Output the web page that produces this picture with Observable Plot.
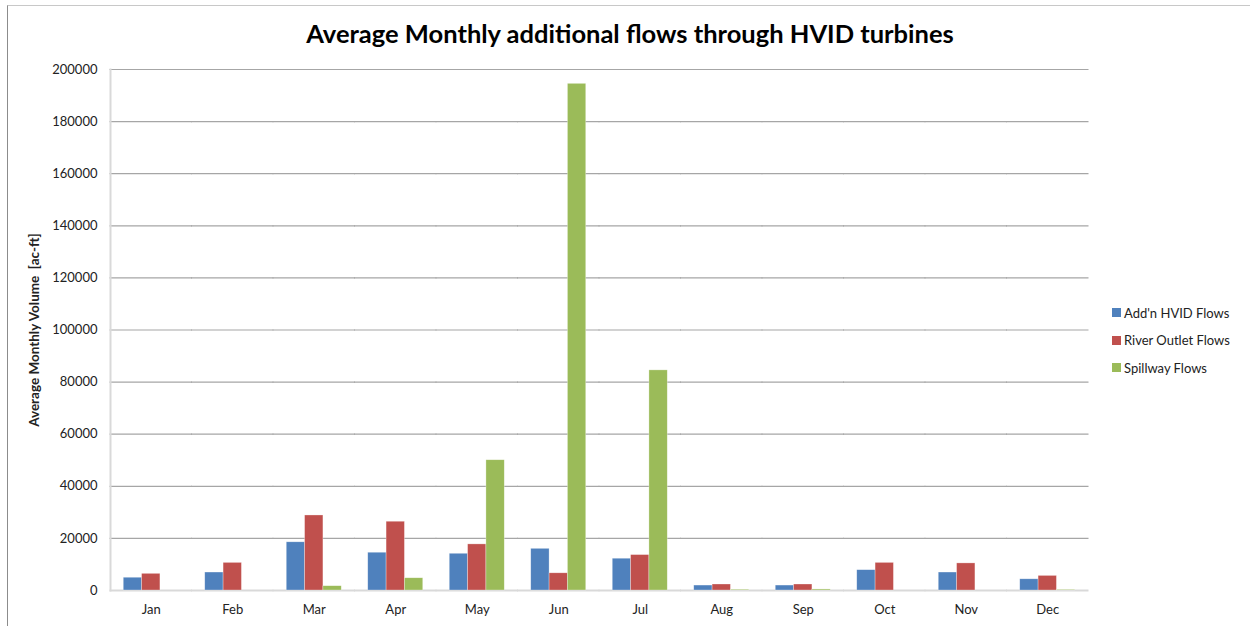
<!DOCTYPE html>
<html>
<head>
<meta charset="utf-8">
<script src="https://cdn.jsdelivr.net/npm/d3@7"></script>
<script src="https://cdn.jsdelivr.net/npm/@observablehq/plot@0.6"></script>
<style>
  body { margin: 0; background: #fff; }
  #wrap { position: relative; width: 1250px; height: 626px; overflow: hidden; font-family: Lato, "Open Sans", sans-serif; }
  #border { position: absolute; left: 7px; top: 5px; width: 1300px; height: 700px; border-left: 1.5px solid #8c8c8c; border-top: 1.5px solid #c8c8c8; }
  #title { position: absolute; left: 0; top: 18px; width: 1260px; text-align: center; font-size: 25.5px; font-weight: bold; color: #000; }
  #legend { position: absolute; left: 1112px; top: 299px; font-size: 13px; color: #222; }
  #legend div { height: 27.5px; display: flex; align-items: center; }
  #legend span.sw { display: inline-block; width: 9px; height: 9px; margin-right: 3px; }
  svg { position: absolute; left: 0; top: 0; }
  g[aria-label="y-axis label"] text { font-weight: bold; font-size: 13.5px; }
</style>
</head>
<body>
<div id="wrap">
  <div id="border"></div>
  <div id="title">Average Monthly additional flows through HVID turbines</div>
  <div id="legend"></div>
</div>
<script>
const months = ["Jan","Feb","Mar","Apr","May","Jun","Jul","Aug","Sep","Oct","Nov","Dec"];
const seriesNames = ["Add'n HVID Flows", "River Outlet Flows", "Spillway Flows"];
const seriesColors = ["#4F81BD", "#C0504D", "#9BBB59"];
const addnHvid   = [4900, 6900, 18500, 14500, 14100, 16000, 12200, 1900, 1900, 7800, 6900, 4300];
const riverOutlet = [6400, 10600, 28800, 26400, 17700, 6600, 13600, 2300, 2300, 10600, 10400, 5600];
const spillway   = [0, 0, 1650, 4700, 50000, 194500, 84500, 300, 400, 0, 0, 250];
const yTicks = [0, 20000, 40000, 60000, 80000, 100000, 120000, 140000, 160000, 180000, 200000];

const seriesValues = [addnHvid, riverOutlet, spillway];
const data = [];
months.forEach((m, i) => {
  seriesNames.forEach((s, j) => data.push({month: m, series: s, value: seriesValues[j][i]}));
});

const plotWidth = 1250, mLeft = 110, mRight = 162;
const step = (plotWidth - mLeft - mRight) / months.length;
const halfGap = step * 0.1625;

const chart = Plot.plot({
  width: plotWidth,
  height: 626,
  marginLeft: mLeft,
  marginRight: mRight,
  marginTop: 69,
  marginBottom: 36,
  style: {fontFamily: "Lato, 'Open Sans', sans-serif", fontSize: "13px", color: "#222", background: "transparent"},
  fx: {domain: months, paddingInner: 0.325, paddingOuter: 0.1625, round: false, label: null},
  x: {domain: seriesNames, padding: 0, round: false, axis: null},
  y: {domain: [0, 200000]},
  color: {domain: seriesNames, range: seriesColors},
  marks: [
    Plot.ruleY(yTicks.filter(d => d > 0), {stroke: "#a6a6a6", strokeWidth: 1.2, insetLeft: -halfGap - 0.5, insetRight: -halfGap - 0.5}),
    Plot.ruleY([0], {stroke: "#d9d9d9", strokeWidth: 2, insetLeft: -halfGap - 0.5, insetRight: -halfGap - 0.5}),
    Plot.frame({facet: "super", anchor: "left", stroke: "#d9d9d9", strokeWidth: 2, dx: -halfGap}),
    Plot.barY(data, {fx: "month", x: "series", y: "value", fill: "series", stroke: "white", strokeWidth: 0.6, strokeOpacity: 0.5}),
    Plot.axisY(yTicks, {tickSize: 0, tickPadding: 13 + halfGap, tickFormat: d3.format("d"), fontSize: 13,
      label: "Average Monthly Volume  [ac-ft]", labelAnchor: "center", labelOffset: 94, labelArrow: "none"}),
    Plot.axisFx({anchor: "bottom", tickSize: 0, tickPadding: 14, fontSize: 13, label: null})
  ]
});
document.getElementById("wrap").appendChild(chart);

const legend = document.getElementById("legend");
seriesNames.forEach((s, j) => {
  const row = document.createElement("div");
  row.innerHTML = `<span class="sw" style="background:${seriesColors[j]}"></span>${s.replace("'", "&#39;")}`;
  legend.appendChild(row);
});
</script>
</body>
</html>
